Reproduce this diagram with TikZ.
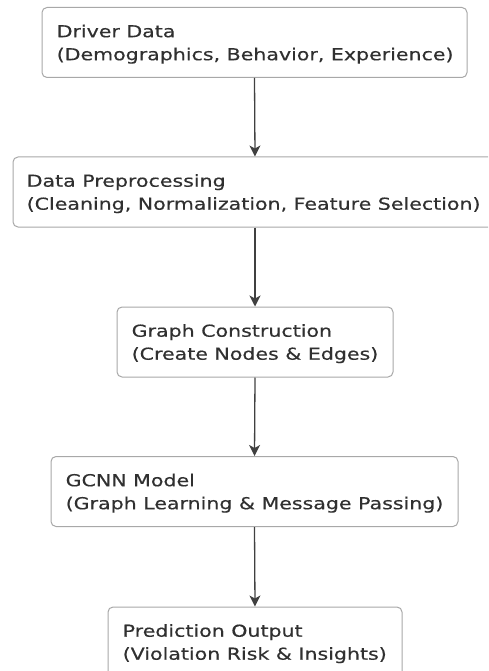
\documentclass[tikz,border=0pt]{standalone}
\usepackage{fontspec}
\setmainfont{DejaVu Sans}[FakeStretch=1.245,FakeBold=0.4]
\usetikzlibrary{arrows.meta}
\definecolor{boxgray}{HTML}{A8A8A8}
\definecolor{textgray}{HTML}{303030}
\definecolor{arrowgray}{HTML}{404040}
\tikzset{
  flowbox/.style={draw=boxgray, line width=1pt, rounded corners=5pt,
    fill=white, minimum height=70pt, inner sep=0pt},
  boxlabel/.style={anchor=north west, inner sep=0pt, align=left,
    text=textgray, font=\fontsize{16.5}{23}\selectfont},
  flowarrow/.style={draw=arrowgray, line width=1.3pt,
    -{Stealth[length=11pt,width=11pt,inset=3pt]}}
}
\begin{document}
\begin{tikzpicture}[x=1pt,y=-1pt]
  \useasboundingbox (0,0) rectangle (488,671);
  \clip (0,0) rectangle (488,671);
  % boxes
  \node[flowbox, minimum width=425pt] (driver) at (254.5,42.5) {};
  \node[flowbox, minimum width=484pt] (prep)   at (255,192)    {};
  \node[flowbox, minimum width=276pt] (graph)  at (255,342)    {};
  \node[flowbox, minimum width=407pt] (gcnn)   at (254.5,491.5) {};
  \node[flowbox, minimum width=294pt] (pred)   at (255,642)    {};
  % labels, left aligned inside each box
  \node[boxlabel] (driver-t) at ([xshift=15pt,yshift=-17.5pt]driver.north west)
    {Driver Data\\(Demographics, Behavior, Experience)};
  \node[boxlabel] (prep-t) at ([xshift=14pt,yshift=-17.5pt]prep.north west)
    {Data Preprocessing\\(Cleaning, Normalization, Feature Selection)};
  \node[boxlabel] (graph-t) at ([xshift=15pt,yshift=-17.5pt]graph.north west)
    {Graph Construction\\(Create Nodes \& Edges)};
  \node[boxlabel] (gcnn-t) at ([xshift=15pt,yshift=-17.5pt]gcnn.north west)
    {GCNN Model\\(Graph Learning \& Message Passing)};
  \node[boxlabel] (pred-t) at ([xshift=15pt,yshift=-17.5pt]pred.north west)
    {Prediction Output\\(Violation Risk \& Insights)};
  % connectors
  \draw[flowarrow] (driver.south) -- (prep.north);
  \draw[flowarrow] (prep.south) -- (graph.north);
  \draw[flowarrow] (graph.south) -- (gcnn.north);
  \draw[flowarrow] (gcnn.south) -- (pred.north);
\end{tikzpicture}
\end{document}
